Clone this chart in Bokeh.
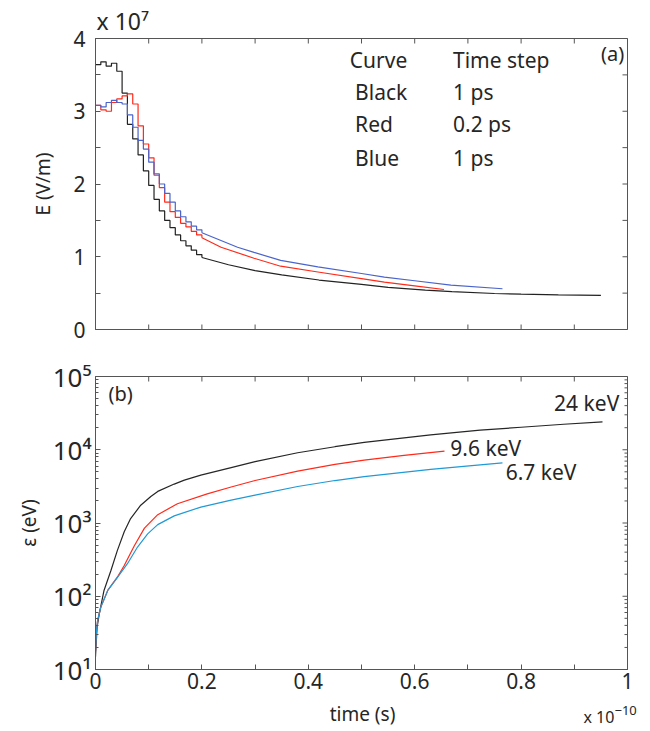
import math
from bokeh.plotting import figure
from bokeh.layouts import column
from bokeh.models import Range1d, FixedTicker, Label
from bokeh.embed import file_html
from bokeh.resources import INLINE

FONT = "Noto Sans"
AX = "#555555"
TXT = "#262626"

# ---------------- panel (a): field, time in 1e-10 s, E in 1e7 V/m ----------------
t_early = [0.00, 0.01, 0.02, 0.03, 0.04, 0.05, 0.06, 0.07, 0.08, 0.09, 0.10,
           0.11, 0.12, 0.13, 0.14, 0.15, 0.16, 0.17, 0.18, 0.19, 0.20]
E_black_early = [3.64, 3.68, 3.62, 3.66, 3.55, 3.25, 2.82, 2.62, 2.40, 2.18, 1.98,
                 1.79, 1.63, 1.50, 1.40, 1.30, 1.22, 1.15, 1.09, 1.03, 0.99]
E_red_early = [3.08, 3.02, 3.00, 3.12, 3.17, 3.21, 3.24, 3.10, 2.80, 2.55, 2.36,
               2.12, 1.95, 1.75, 1.62, 1.54, 1.46, 1.41, 1.35, 1.30, 1.26]
E_blue_early = [3.08, 3.06, 3.12, 3.15, 3.12, 3.10, 2.95, 2.78, 2.60, 2.48, 2.30,
                2.14, 2.00, 1.87, 1.75, 1.63, 1.55, 1.48, 1.42, 1.37, 1.33]

t_black_tail = [0.20, 0.25, 0.30, 0.35, 0.42, 0.50, 0.55, 0.62, 0.67, 0.75, 0.80, 0.87, 0.95]
E_black_tail = [0.99, 0.89, 0.81, 0.75, 0.68, 0.62, 0.58, 0.54, 0.52, 0.495, 0.485, 0.475, 0.47]
t_red_tail = [0.20, 0.236, 0.298, 0.348, 0.418, 0.50, 0.543, 0.60, 0.655]
E_red_tail = [1.26, 1.13, 0.98, 0.87, 0.79, 0.70, 0.65, 0.60, 0.55]
t_blue_tail = [0.20, 0.267, 0.298, 0.348, 0.418, 0.50, 0.543, 0.60, 0.668, 0.765]
E_blue_tail = [1.33, 1.13, 1.06, 0.95, 0.86, 0.77, 0.72, 0.67, 0.61, 0.56]

legend_rows = [("Curve", "Time step"), ("Black", "1 ps"), ("Red", "0.2 ps"), ("Blue", "1 ps")]

# ---------------- panel (b): energy, eV ----------------
t_black_b = [0.0, 0.003, 0.007, 0.016, 0.029, 0.041, 0.054, 0.066, 0.085, 0.104, 0.117,
             0.148, 0.167, 0.198, 0.255, 0.30, 0.38, 0.45, 0.505, 0.63, 0.723, 0.80, 0.88, 0.953]
eps_black = [15, 38, 57, 120, 225, 420, 760, 1150, 1750, 2300, 2700,
             3400, 3850, 4500, 5700, 6900, 9100, 11000, 12600, 16000, 18500, 20300, 22300, 24000]
t_red_b = [0.0, 0.002, 0.004, 0.01, 0.023, 0.041, 0.054, 0.073, 0.092, 0.117, 0.154,
           0.21, 0.255, 0.30, 0.38, 0.45, 0.505, 0.58, 0.656]
eps_red = [18, 35, 47, 71, 120, 182, 263, 490, 850, 1300, 1830,
           2500, 3100, 3800, 5100, 6300, 7200, 8400, 9600]
t_blue_b = [0.0, 0.002, 0.004, 0.01, 0.023, 0.041, 0.06, 0.079, 0.098, 0.117, 0.148,
            0.198, 0.255, 0.30, 0.38, 0.45, 0.505, 0.63, 0.723, 0.765]
eps_blue = [18, 35, 47, 71, 120, 180, 278, 470, 710, 950, 1250,
            1650, 2050, 2400, 3150, 3800, 4300, 5400, 6200, 6600]
end_labels = [("24 keV", 0.862, 42800), ("9.6 keV", 0.667, 10500), ("6.7 keV", 0.771, 4900)]

x_ticks_all = [i / 10 for i in range(11)]
x_major_b = [0, 0.2, 0.4, 0.6, 0.8, 1.0]
x_minor_b = [0.1, 0.3, 0.5, 0.7, 0.9]
y_major_a = [0, 1, 2, 3, 4]
y_minor_a = [0.5, 1.5, 2.5, 3.5]
y_major_b = [10, 100, 1000, 10000, 100000]
y_minor_b = [m * 10 ** k for k in range(1, 5) for m in range(2, 10)]
y_labels_b = {10: "10\u00b9", 100: "10\u00b2", 1000: "10\u00b3", 10000: "10\u2074", 100000: "10\u2075"}
x_labels_b = {0: "0", 0.2: "0.2", 0.4: "0.4", 0.6: "0.6", 0.8: "0.8", 1.0: "1"}


def style_axis(ax, size="21px", tick_in=5, minor_in=5):
    ax.axis_line_color = AX
    ax.major_tick_line_color = AX
    ax.minor_tick_line_color = AX
    ax.major_tick_in = tick_in
    ax.major_tick_out = 0
    ax.minor_tick_in = minor_in
    ax.minor_tick_out = 0
    ax.major_label_text_font = FONT
    ax.major_label_text_color = TXT
    ax.major_label_text_font_size = size
    ax.axis_label_text_font = FONT
    ax.axis_label_text_font_style = "normal"
    ax.axis_label_text_color = TXT
    ax.axis_label_text_font_size = "19px"


def edge_ticks(p, xs=None, y_edge=None, ys=None, x_edge=None, size=10):
    # inward tick marks on the frame edges (half of the dash is clipped by the frame)
    if xs is not None:
        p.scatter(xs, [y_edge] * len(xs), marker="dash", size=size, angle=math.pi / 2,
                  line_color=AX, line_width=1)
    if ys is not None:
        p.scatter([x_edge] * len(ys), ys, marker="dash", size=size,
                  line_color=AX, line_width=1)


def txt(p, x, y, s, size, align="left", baseline="middle"):
    p.add_layout(Label(x=x, y=y, text=s, text_font=FONT, text_font_size=size,
                       text_color=TXT, text_align=align, text_baseline=baseline))


# ---------------- figure (a) ----------------
p1 = figure(width=650, height=350, x_range=Range1d(0, 1), y_range=Range1d(0, 4),
            output_backend="svg", toolbar_location=None,
            min_border_left=94, min_border_right=23, min_border_top=38, min_border_bottom=21)
p1.grid.visible = False
p1.outline_line_color = AX
p1.xaxis.visible = False
p1.yaxis.ticker = FixedTicker(ticks=y_major_a, minor_ticks=y_minor_a)
style_axis(p1.yaxis[0])
p1.yaxis.axis_label = "E (V/m)"
p1.yaxis.major_label_standoff = 10
p1.yaxis.axis_label_standoff = 14

p1.title.text = "x 10\u2077"
p1.title.align = "left"
p1.title.text_font = FONT
p1.title.text_font_size = "23px"
p1.title.text_font_style = "normal"
p1.title.text_color = TXT
p1.title.standoff = 4
p1.title.offset = 1

edge_ticks(p1, xs=x_ticks_all, y_edge=4)
edge_ticks(p1, xs=x_ticks_all, y_edge=0)
edge_ticks(p1, ys=y_major_a + y_minor_a, x_edge=1)

p1.step(t_early, E_black_early, mode="after", line_color="#222222", line_width=1.2)
p1.line(t_black_tail, E_black_tail, line_color="#222222", line_width=1.2)
p1.step(t_early, E_red_early, mode="after", line_color="#ff2a1a", line_width=1.2)
p1.line(t_red_tail, E_red_tail, line_color="#ff2a1a", line_width=1.2)
p1.step(t_early, E_blue_early, mode="after", line_color="#4a64cc", line_width=1.2)
p1.line(t_blue_tail, E_blue_tail, line_color="#4a64cc", line_width=1.2)

row_y = [3.70, 3.26, 2.82, 2.36]
for i, (c1, c2) in enumerate(legend_rows):
    txt(p1, 0.478 if i == 0 else 0.488, row_y[i], c1, "21px")
    txt(p1, 0.672, row_y[i], c2, "21px")
txt(p1, 0.994, 3.79, "(a)", "20px", align="right")

# ---------------- figure (b) ----------------
p2 = figure(width=650, height=350, x_range=Range1d(0, 1), y_range=Range1d(10, 1e5),
            y_axis_type="log", output_backend="svg", toolbar_location=None,
            min_border_left=95, min_border_right=23, min_border_top=26, min_border_bottom=31)
p2.grid.visible = False
p2.outline_line_color = AX

p2.xaxis.ticker = FixedTicker(ticks=x_major_b, minor_ticks=x_minor_b)
style_axis(p2.xaxis[0])
p2.xaxis.major_label_overrides = x_labels_b
p2.xaxis.major_label_standoff = 3
p2.yaxis.ticker = FixedTicker(ticks=y_major_b, minor_ticks=y_minor_b)
style_axis(p2.yaxis[0], size="26px", minor_in=3)
p2.yaxis.major_label_overrides = y_labels_b
p2.yaxis.axis_label = "\u03b5 (eV)"
p2.yaxis.major_label_standoff = 4
p2.yaxis.axis_label_standoff = 8

edge_ticks(p2, xs=x_ticks_all, y_edge=1e5)
edge_ticks(p2, ys=y_major_b, x_edge=1)
edge_ticks(p2, ys=y_minor_b, x_edge=1, size=6)

p2.line(t_black_b, eps_black, line_color="#262626", line_width=1.2)
p2.line(t_red_b, eps_red, line_color="#ff2a1a", line_width=1.2)
p2.line(t_blue_b, eps_blue, line_color="#1f9ad6", line_width=1.2)

for s, lx, ly in end_labels:
    txt(p2, lx, ly, s, "21px")
txt(p2, 0.0244, 58600, "(b)", "20px")

# ---------------- strip below (b): x-axis title and exponent (pixel coordinates) ----------------
p3 = figure(width=650, height=31, x_range=Range1d(0, 650), y_range=Range1d(0, 31),
            output_backend="svg", toolbar_location=None,
            x_axis_location=None, y_axis_location=None,
            min_border_left=0, min_border_right=0, min_border_top=0, min_border_bottom=0)
try:
    p3.frame_align = False
except AttributeError:
    pass
p3.grid.visible = False
p3.outline_line_color = None
txt(p3, 362, 18, "time (s)", "19px", align="center")
txt(p3, 583, 15, "x 10", "16px")
txt(p3, 614, 21, "\u221210", "13px")

layout = column(p1, p2, p3, spacing=0)
open("out.html", "w").write(file_html(layout, INLINE))
